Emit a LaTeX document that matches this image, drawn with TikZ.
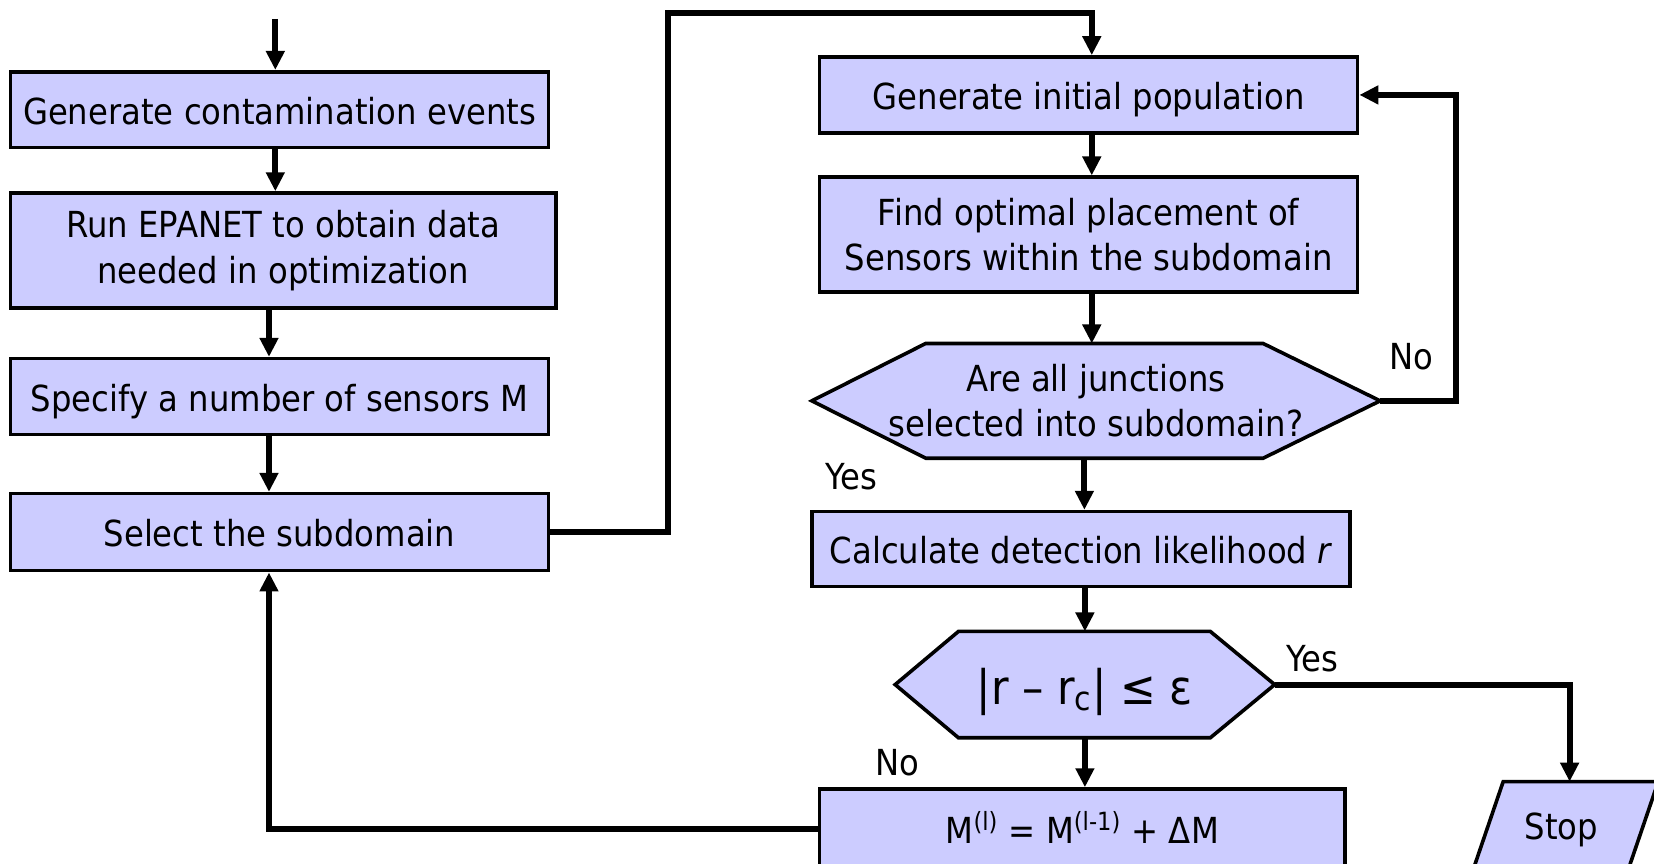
\documentclass[tikz,border=0pt]{standalone}
\usepackage{fontspec}
\setmainfont{DejaVu Sans}[FakeStretch=0.9]
\usetikzlibrary{arrows.meta,backgrounds,calc}
\definecolor{boxfill}{HTML}{CCCCFF}
\begin{document}
\begin{tikzpicture}[x=0.5pt,y=-0.5pt,
  box/.style={draw,line width=1.7pt,fill=boxfill,inner sep=0pt,align=center,font=\fontsize{17}{21.5}\selectfont},
  oneline/.style={text height=14.5pt,text depth=0.5pt},
  geo/.style={inner sep=0pt,align=center,font=\fontsize{17}{21.5}\selectfont},
  shapeline/.style={draw,line width=1.7pt,fill=boxfill},
  conn/.style={line width=2.8pt},
  arr/.style={conn,-{Triangle[width=8.5pt,length=9pt]}},
  lab/.style={font=\fontsize{17}{20}\selectfont,inner sep=0pt}]
\useasboundingbox (0,0) rectangle (1568,819);
\clip (0,0) rectangle (1568,819);

% left column
\node[box,oneline,minimum width=255pt,minimum height=36pt] (b1) at (265,104) {Generate contamination events};
\node[box,minimum width=258.5pt,minimum height=54.5pt] (b2) at (268.5,237.5) {Run EPANET to obtain data\\ needed in optimization};
\node[box,oneline,minimum width=255pt,minimum height=36pt] (b3) at (265,376) {Specify a number of sensors M};
\node[box,oneline,minimum width=255pt,minimum height=36.5pt] (b4) at (265,504.5) {Select the subdomain};

% right column
\node[box,oneline,minimum width=255pt,minimum height=36pt] (b5) at (1032,90) {Generate initial population};
\node[box,minimum width=255pt,minimum height=54.5pt] (b6) at (1032,222.5) {Find optimal placement of\\Sensors within the subdomain};
\node[geo,minimum width=269pt,minimum height=54pt] (h1) at (1039,380) {Are all junctions\\selected into subdomain?};
\node[box,oneline,minimum width=255pt,minimum height=35.5pt] (b7) at (1025,520.5) {Calculate detection likelihood \textit{r}};
\node[geo,minimum width=179.5pt,minimum height=50pt,text height=19.5pt,text depth=0.7pt,font=\fontsize{22.5}{24}\selectfont] (h2) at (1028.5,649) {|r – r\textsubscript{c}| ≤ ε};
\node[box,oneline,minimum width=249pt,minimum height=38pt] (b8) at (1026,786) {M\textsuperscript{(l)} = M\textsuperscript{(l-1)} + ΔM};
\node[geo] (stop) at (1480,787) {Stop};

\begin{scope}[on background layer]
\path[shapeline] (h1.west) -- ([xshift=54pt]h1.north west) -- ([xshift=-55.5pt]h1.north east) -- (h1.east) -- ([xshift=-55.5pt]h1.south east) -- ([xshift=54pt]h1.south west) -- cycle;
\path[shapeline] (h2.west) -- ([xshift=30pt]h2.north west) -- ([xshift=-30.5pt]h2.north east) -- (h2.east) -- ([xshift=-30.5pt]h2.south east) -- ([xshift=30pt]h2.south west) -- cycle;
\path[shapeline] (1425,741) -- (1572,741) -- (1542,829) -- (1395,829) -- cycle;
\end{scope}

% labels
\node[lab] (no1) at (1338,338) {No};
\node[lab] (yes1) at (807,452) {Yes};
\node[lab] (yes2) at (1244,624) {Yes};
\node[lab] (no2) at (851,723) {No};

% helper coordinates
\coordinate (start) at (261,18);
\coordinate (lx) at (255,0);
\coordinate (t1) at (633,12);
\coordinate (r1) at (1380,0);
\coordinate (stoptop) at (1488,741);

% connectors
\draw[arr] (start) -- (start |- b1.north);
\draw[arr] (b1.south -| start) -- (b2.north -| start);
\draw[arr] (b2.south -| lx) -- (b3.north -| lx);
\draw[arr] (b3.south -| lx) -- (b4.north -| lx);
\draw[arr] (b4.east) -| (t1) -| ([xshift=1.5pt]b5.north);
\draw[arr] ([xshift=1.5pt]b5.south) -- ([xshift=1.5pt]b6.north);
\draw[arr] ([xshift=1.5pt]b6.south) -- ([xshift=1.5pt]b6.south |- h1.north);
\draw[arr] (h1.east) -- (h1.east -| r1) -- (r1 |- b5.east) -- (b5.east);
\draw[arr] ([xshift=1.5pt]b7.north |- h1.south) -- ([xshift=1.5pt]b7.north);
\draw[arr] (b7.south -| h2.north) -- (h2.north);
\draw[arr] (h2.south) -- (h2.south |- b8.north);
\draw[arr] (h2.east) -| (stoptop);
\draw[arr] (b8.west) -- (b8.west -| lx) -- (b4.south -| lx);
\end{tikzpicture}
\end{document}
